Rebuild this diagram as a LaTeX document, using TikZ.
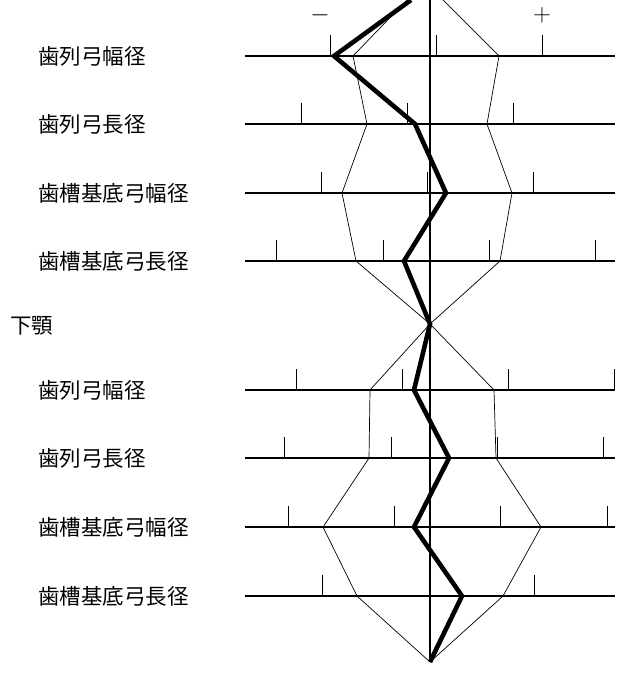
\documentclass[tikz,border=0pt]{standalone}
\usepackage{fontspec}
\newfontfamily\jp{Noto Sans CJK JP}
\tikzset{
  rowlabel/.style={anchor=west,inner sep=0pt,font=\jp\fontsize{21.5}{22}\selectfont},
  signlabel/.style={inner sep=0pt,font=\fontsize{26}{26}\selectfont},
  baseline/.style={line width=1.5pt},
  tick/.style={line width=1pt},
  band/.style={line width=0.7pt},
  mean/.style={line width=4.6pt,line join=miter},
}
\begin{document}
\begin{tikzpicture}[x=1pt,y=-1pt]
    \useasboundingbox (0,0) rectangle (628,677);
    %% rows: y / label
    \foreach \y/\t in {56/歯列弓幅径,124/歯列弓長径,193/歯槽基底弓幅径,261/歯槽基底弓長径,390/歯列弓幅径,458/歯列弓長径,527/歯槽基底弓幅径,596/歯槽基底弓長径}{
        \node[rowlabel] at (38,\y) {\t};
        \draw[baseline] (245,\y)--(615,\y);
    }
    \node[rowlabel] (mand) at (10,326) {下顎};
    \node[signlabel] (minus) at (320,15) {$-$};
    \node[signlabel] (plus) at (542,15) {$+$};
    \draw[line width=1.2pt] (430,0)--(430,662);
    %% ticks
    \foreach \x/\y in {330/56,436/56,542/56,301/124,407/124,513/124,321/193,427/193,533/193,
        276/261,383/261,489/261,595/261,296/390,402/390,508/390,614/390,284/458,391/458,497/458,603/458,
        288/527,394/527,500/527,607/527,322/596,429/596,534/596}
        \draw[tick] (\x,\y)--(\x,\y-21);
    %% +-1 SD band
    \draw[band] (407,0)--(353,56)--(367,124)--(342,193)--(356,261)--(430,324)
        --(370,390)--(369,458)--(323,527)--(357,596)--(430,662);
    \draw[band] (443,0)--(499,56)--(487,124)--(512,193)--(500,261)--(430,324)
        --(494,390)--(496,458)--(541,527)--(503,596)--(430,662);
    %% mean
    \draw[mean] (411,0)--(334,56)--(415,124)--(446,193)--(404,261)--(430,324)
        --(414,390)--(449,458)--(414,527)--(462,596)--(430,662);
\end{tikzpicture}
\end{document}
